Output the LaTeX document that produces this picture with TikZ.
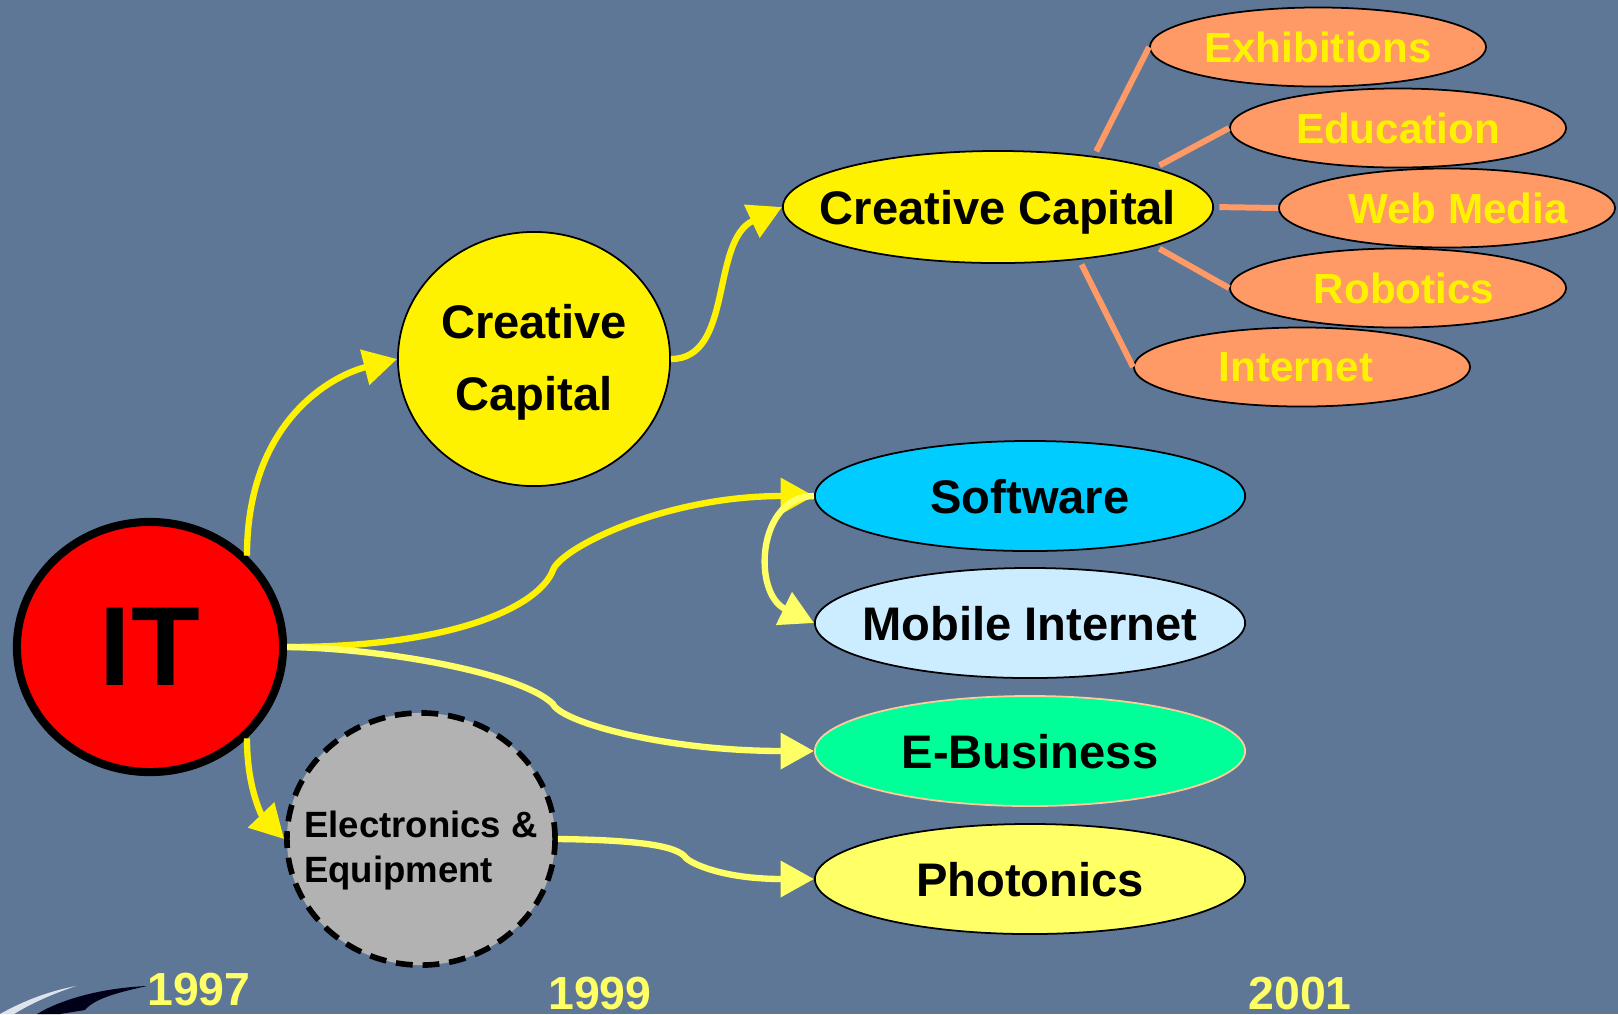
\documentclass[tikz,border=0pt]{standalone}
\usepackage{fontspec}
\setmainfont{Liberation Sans}
\usepackage{tikz}
\usetikzlibrary{arrows.meta,shapes.geometric}

\definecolor{slide}{RGB}{95,119,151}
\definecolor{peach}{RGB}{255,153,102}
\definecolor{paleyellow}{RGB}{255,255,102}
\definecolor{sky}{RGB}{0,204,255}
\definecolor{palesky}{RGB}{204,236,255}
\definecolor{mint}{RGB}{0,255,153}
\definecolor{rim}{RGB}{255,204,153}
\definecolor{silver}{RGB}{178,178,178}
\definecolor{gleam}{RGB}{222,228,238}

\newcommand{\nodetext}[1]{\makebox[0pt]{#1}}

\begin{document}
\begin{tikzpicture}[x=0.01cm,y=-0.01cm,
  every node/.style={font=\bfseries\fontsize{13.4}{20.5}\selectfont,inner sep=0pt,text depth=0pt},
  blob/.style={ellipse,draw,line width=0.5pt,minimum width=4.3cm,minimum height=1.1cm},
  leaf/.style={ellipse,draw,line width=0.5pt,fill=peach,text=yellow,minimum width=3.36cm,minimum height=0.79cm,font=\bfseries\fontsize{12}{14}\selectfont},
  twig/.style={draw=peach,line width=1.7pt,shorten <=1.5pt},
  shoot/.style={line width=1.8pt,-{Triangle[length=9.5pt,width=10pt]}},
  year/.style={text=paleyellow,font=\bfseries\fontsize{13.2}{15}\selectfont}]

\fill[slide] (0,0) rectangle (1618,1014);
\useasboundingbox (0,0) rectangle (1618,1014);

\fill[black!90!blue] (37,1014) .. controls (60,1000) and (100,988) .. (147,986) .. controls (120,992) and (95,998) .. (85,1010) -- (60,1014) -- cycle;
\fill[gleam] (0,1014) .. controls (25,1000) and (50,991) .. (76,986) .. controls (52,994) and (30,1004) .. (14,1014) -- cycle;

\node[ellipse,draw,line width=2.3pt,fill=red,minimum width=2.66cm,minimum height=2.5cm,font=\bfseries\fontsize{32}{36}\selectfont] (it) at (150,647) {IT};
\node[ellipse,draw,line width=0.5pt,fill=yellow,minimum width=2.72cm,minimum height=2.54cm] (cc1) at (534,359) {\nodetext{\raisebox{5.3pt}{\begin{tabular}[b]{@{}c@{}}Creative\\Capital\end{tabular}}}};
\node[ellipse,draw,dash pattern=on 4.8pt off 2.8pt,line width=1.6pt,fill=silver,minimum width=2.68cm,minimum height=2.52cm,font=\bfseries\fontsize{10.4}{12.8}\selectfont] (elec) at (421,839) {\nodetext{\raisebox{-3pt}{\begin{tabular}[b]{@{}l@{}}Electronics \&\\Equipment\end{tabular}}}};

\node[blob,fill=yellow,minimum height=1.12cm] (cc2) at (998,207) {\nodetext{Creative Capital}};
\node[blob,fill=sky] (sw) at (1030,496) {\nodetext{Software}};
\node[blob,fill=palesky] (mob) at (1030,623) {\nodetext{Mobile Internet}};
\node[blob,draw=rim,fill=mint] (ebiz) at (1030,751) {\nodetext{E-Business}};
\node[blob,fill=paleyellow] (pho) at (1030,879) {\nodetext{Photonics}};

\node[leaf] (exh) at (1318,47) {\nodetext{Exhibitions}};
\node[leaf] (edu) at (1398,128) {\nodetext{Education}};
\node[leaf] (web) at (1447,208) {\nodetext{\hspace{6.3pt}Web Media}};
\node[leaf] (rob) at (1398,288) {\nodetext{\hspace{3.5pt}Robotics}};
\node[leaf] (int) at (1302,367) {\nodetext{Internet\hspace{3.5pt}}};

\draw[twig] (cc2.28) -- (exh.west);
\draw[twig] (cc2.14) -- (edu.west);
\draw[twig] (cc2.east) -- (web.west);
\draw[twig] (cc2.-14) -- (rob.west);
\draw[twig] (cc2.-33) -- (int.west);

\draw[shoot,yellow] (it.north east) .. controls +(0,-130) and +(-70,18) .. (cc1.west);
\draw[shoot,yellow] (cc1.east) .. controls +(63,0) and +(-72,34) .. (cc2.west);
\draw[shoot,yellow] (it.east) .. controls +(170,0) and (540,605) .. (553,570) .. controls +(8,-22) and +(-150,0) .. (sw.west);
\draw[shoot,paleyellow] (it.east) .. controls +(90,1) and (520,672) .. (553,704) .. controls +(8,18) and +(-150,0) .. (ebiz.west);
\draw[shoot,paleyellow] (sw.west) .. controls +(-57,0) and +(-62,-30) .. (mob.west);
\draw[shoot,yellow] (it.south east) .. controls +(0,50) and +(-22,-23) .. (elec.west);
\draw[shoot,paleyellow] (elec.east) .. controls +(82,1) and (678,846) .. (686,858) .. controls +(6,6) and +(-90,0) .. (pho.west);

\node[year] (y97) at (199,989) {1997};
\node[year] (y99) at (600,993) {1999};
\node[year] (y01) at (1300,993) {2001};
\end{tikzpicture}
\end{document}
